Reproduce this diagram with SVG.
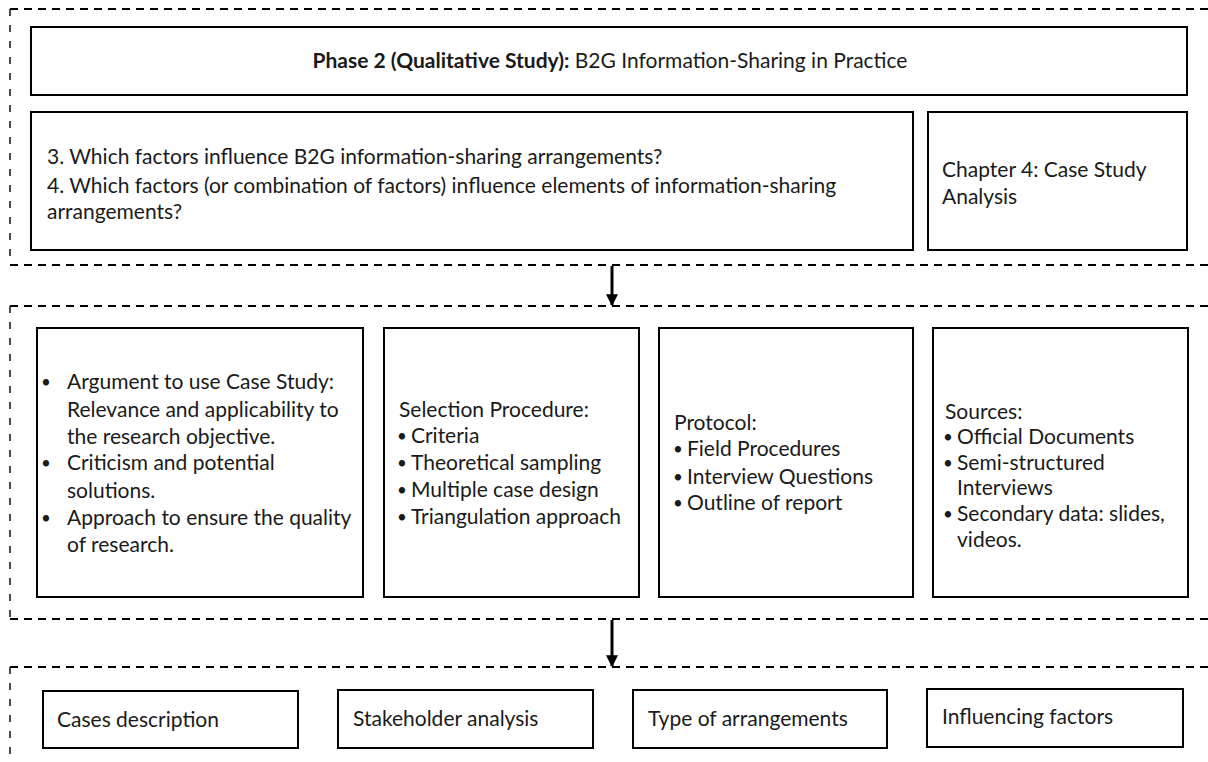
<svg xmlns="http://www.w3.org/2000/svg" width="1208" height="762" viewBox="0 0 1208 762">
  <style>
    .box { fill: #ffffff; stroke: #000000; stroke-width: 2; }
    .frame-h { fill: none; stroke: #000000; stroke-width: 2.2; stroke-dasharray: 8 6; }
    .frame-v { fill: none; stroke: #000000; stroke-width: 1.4; stroke-dasharray: 7 9; }
    .t { font-family: Lato, "Liberation Sans", sans-serif; font-size: 21px; fill: #1a1a1a; }
    .bl { font-family: Lato, "Liberation Sans", sans-serif; font-size: 17px; fill: #1a1a1a; text-anchor: middle; }
    .b { font-weight: bold; }
    .link { stroke: #000000; stroke-width: 3; fill: none; }
  </style>
  <defs>
    <marker id="arrow" viewBox="0 0 10 10" refX="9" refY="5" markerWidth="4" markerHeight="4" orient="auto" markerUnits="strokeWidth">
      <path d="M0,0 L10,5 L0,10 z" fill="#000000"/>
    </marker>
  </defs>
  <rect width="1208" height="762" fill="#ffffff"/>

  <!-- dashed section frames -->
  <g id="frames">
    <line class="frame-h" x1="10" y1="9" x2="1208" y2="9"/>
    <line class="frame-v" x1="10" y1="9" x2="10" y2="265"/>
    <line class="frame-h" x1="10" y1="265" x2="1208" y2="265"/>

    <line class="frame-h" x1="10" y1="306" x2="1208" y2="306"/>
    <line class="frame-v" x1="10" y1="306" x2="10" y2="619"/>
    <line class="frame-h" x1="10" y1="619" x2="1208" y2="619"/>

    <line class="frame-h" x1="10" y1="667" x2="1208" y2="667"/>
    <line class="frame-v" x1="10" y1="667" x2="10" y2="762"/>
  </g>

  <!-- connectors -->
  <g id="connectors">
    <line class="link" x1="612" y1="266" x2="612" y2="305" marker-end="url(#arrow)"/>
    <line class="link" x1="612" y1="620" x2="612" y2="666" marker-end="url(#arrow)"/>
  </g>

  <!-- phase title -->
  <g id="node-title">
    <rect class="box" x="31" y="27" width="1156" height="68"/>
    <text class="t" x="610" y="68" text-anchor="middle"><tspan class="b">Phase 2 (Qualitative Study):</tspan> B2G Information-Sharing in Practice</text>
  </g>

  <!-- research questions -->
  <g id="node-questions">
    <rect class="box" x="31" y="112" width="882" height="138"/>
    <text class="t" x="47" y="164">3. Which factors influence B2G information-sharing arrangements?</text>
    <text class="t" x="47" y="193">4. Which factors (or combination of factors) influence elements of information-sharing</text>
    <text class="t" x="47" y="219">arrangements?</text>
  </g>

  <g id="node-chapter">
    <rect class="box" x="928" y="112" width="259" height="138"/>
    <text class="t" x="942" y="177">Chapter 4: Case Study</text>
    <text class="t" x="942" y="204">Analysis</text>
  </g>

  <!-- method blocks -->
  <g id="node-argument">
    <rect class="box" x="37" y="328" width="326" height="269"/>
    <text class="bl" x="46" y="388">•</text>
    <text class="t" x="67" y="389">Argument to use Case Study:</text>
    <text class="t" x="67" y="417">Relevance and applicability to</text>
    <text class="t" x="67" y="444">the research objective.</text>
    <text class="bl" x="46" y="469">•</text>
    <text class="t" x="67" y="470">Criticism and potential</text>
    <text class="t" x="67" y="498">solutions.</text>
    <text class="bl" x="46" y="524">•</text>
    <text class="t" x="67" y="525">Approach to ensure the quality</text>
    <text class="t" x="67" y="552">of research.</text>
  </g>

  <g id="node-selection">
    <rect class="box" x="384" y="328" width="255" height="269"/>
    <text class="t" x="399" y="417">Selection Procedure:</text>
    <text class="bl" x="402" y="442">•</text>
    <text class="t" x="411" y="443">Criteria</text>
    <text class="bl" x="402" y="469">•</text>
    <text class="t" x="411" y="470">Theoretical sampling</text>
    <text class="bl" x="402" y="496">•</text>
    <text class="t" x="411" y="497">Multiple case design</text>
    <text class="bl" x="402" y="523">•</text>
    <text class="t" x="411" y="524">Triangulation approach</text>
  </g>

  <g id="node-protocol">
    <rect class="box" x="659" y="328" width="254" height="269"/>
    <text class="t" x="674" y="430">Protocol:</text>
    <text class="bl" x="678" y="455">•</text>
    <text class="t" x="687" y="456">Field Procedures</text>
    <text class="bl" x="678" y="483">•</text>
    <text class="t" x="687" y="484">Interview Questions</text>
    <text class="bl" x="678" y="509">•</text>
    <text class="t" x="687" y="510">Outline of report</text>
  </g>

  <g id="node-sources">
    <rect class="box" x="933" y="328" width="255" height="269"/>
    <text class="t" x="945" y="419">Sources:</text>
    <text class="bl" x="948" y="443">•</text>
    <text class="t" x="957" y="444">Official Documents</text>
    <text class="bl" x="948" y="469">•</text>
    <text class="t" x="957" y="470">Semi-structured</text>
    <text class="t" x="957" y="495">Interviews</text>
    <text class="bl" x="948" y="520">•</text>
    <text class="t" x="957" y="521">Secondary data: slides,</text>
    <text class="t" x="957" y="547">videos.</text>
  </g>

  <!-- analysis outputs -->
  <g id="node-cases">
    <rect class="box" x="43" y="691" width="255" height="57"/>
    <text class="t" x="57" y="727">Cases description</text>
  </g>
  <g id="node-stakeholder">
    <rect class="box" x="338" y="690" width="255" height="58"/>
    <text class="t" x="353" y="726">Stakeholder analysis</text>
  </g>
  <g id="node-arrangements">
    <rect class="box" x="633" y="690" width="254" height="58"/>
    <text class="t" x="648" y="726">Type of arrangements</text>
  </g>
  <g id="node-factors">
    <rect class="box" x="927" y="689" width="256" height="58"/>
    <text class="t" x="942" y="724">Influencing factors</text>
  </g>
</svg>
